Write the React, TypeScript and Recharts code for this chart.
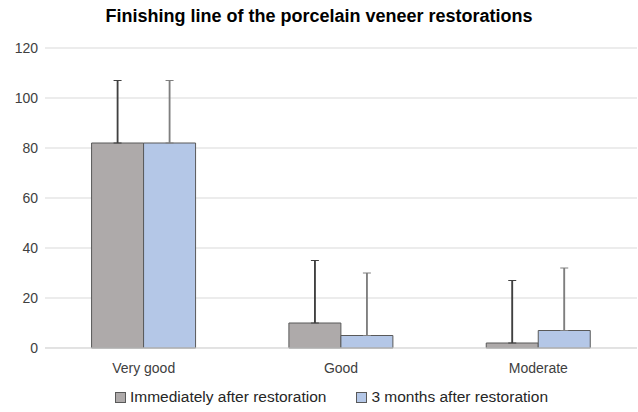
import React from 'react';
import { BarChart, Bar, XAxis, YAxis, CartesianGrid, Legend, ErrorBar } from 'recharts';

const categories = ['Very good', 'Good', 'Moderate'];
const immediateValues = [82, 10, 2];
const threeMonthValues = [82, 5, 7];
const immediateErrors = [25, 25, 25];
const threeMonthErrors = [25, 25, 25];
const yTicks = [0, 20, 40, 60, 80, 100, 120];

const seriesOrder = ['immediate', 'threeMonths'];
const seriesNames = {
  immediate: 'Immediately after restoration',
  threeMonths: '3 months after restoration',
};

const data = categories.map((name, i) => ({
  name,
  immediate: immediateValues[i],
  threeMonths: threeMonthValues[i],
  immediateErr: [0, immediateErrors[i]],
  threeMonthsErr: [0, threeMonthErrors[i]],
}));

const FONT = '"Liberation Sans", Arial, sans-serif';

const renderLegend = (props: any) => {
  const payload = [...(props.payload || [])].sort(
    (a: any, b: any) => seriesOrder.indexOf(a.dataKey) - seriesOrder.indexOf(b.dataKey)
  );
  return (
    <div
      style={{
        display: 'flex',
        justifyContent: 'center',
        paddingLeft: 26,
        fontFamily: FONT,
        fontSize: 15.5,
        color: '#262626',
      }}
    >
      {payload.map((entry: any, index: number) => (
        <div key={`item-${index}`} style={{ display: 'flex', alignItems: 'center', marginRight: index === 0 ? 30 : 0 }}>
          <span
            style={{
              display: 'inline-block',
              width: 9,
              height: 9,
              background: entry.color,
              border: '1px solid #595959',
              marginRight: 4,
            }}
          />
          <span>{entry.value}</span>
        </div>
      ))}
    </div>
  );
};

const App: React.FC = () => {
  return (
    <div style={{ position: 'absolute', left: 0, top: 0, width: 638, height: 412, background: '#fff' }}>
      <div
        style={{
          position: 'absolute',
          top: 6,
          left: 0,
          width: 638,
          textAlign: 'center',
          fontFamily: FONT,
          fontWeight: 'bold',
          fontSize: 18,
          color: '#000',
        }}
      >
        Finishing line of the porcelain veneer restorations
      </div>
      <BarChart
        width={638}
        height={412}
        data={data}
        margin={{ top: 48, right: 1, left: 0, bottom: 4 }}
        barCategoryGap="23.6%"
        barGap={0}
      >
        <CartesianGrid vertical={false} stroke="#d9d9d9" />
        <XAxis
          dataKey="name"
          axisLine={{ stroke: '#d9d9d9' }}
          tickLine={false}
          tickSize={0}
          tickMargin={15}
          height={40}
          tick={{ fill: '#404040', fontSize: 14, fontFamily: FONT }}
        />
        <YAxis
          ticks={yTicks}
          domain={[0, 120]}
          axisLine={false}
          tickLine={false}
          tickSize={0}
          tickMargin={7}
          width={45}
          tick={{ fill: '#404040', fontSize: 14, fontFamily: FONT }}
        />
        <Legend content={renderLegend} verticalAlign="bottom" height={20} />
        <Bar
          dataKey="immediate"
          name={seriesNames.immediate}
          fill="#aeaaaa"
          stroke="#595959"
          strokeWidth={1}
          isAnimationActive={false}
        >
          <ErrorBar dataKey="immediateErr" width={0} stroke="#404040" strokeWidth={1.8} direction="y" />
          <ErrorBar dataKey="immediateErr" width={4} stroke="#404040" strokeWidth={1} direction="y" />
        </Bar>
        <Bar
          dataKey="threeMonths"
          name={seriesNames.threeMonths}
          fill="#b4c7e7"
          stroke="#595959"
          strokeWidth={1}
          isAnimationActive={false}
        >
          <ErrorBar dataKey="threeMonthsErr" width={0} stroke="#7f7f7f" strokeWidth={1.8} direction="y" />
          <ErrorBar dataKey="threeMonthsErr" width={4} stroke="#7f7f7f" strokeWidth={1} direction="y" />
        </Bar>
      </BarChart>
    </div>
  );
};

export default App;
